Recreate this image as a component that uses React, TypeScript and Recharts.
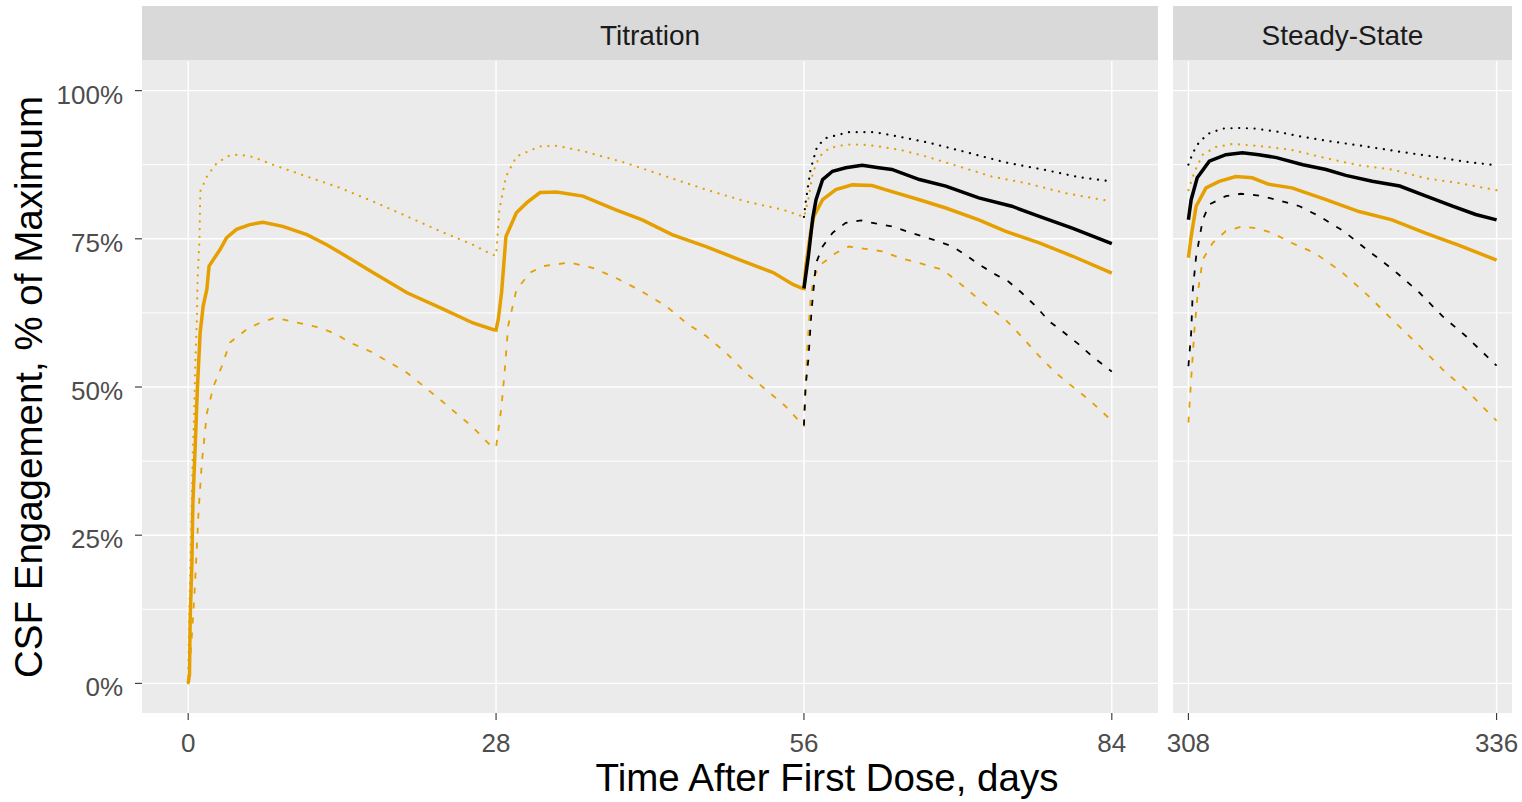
import React from 'react'
import { LineChart, Line, XAxis, YAxis, CartesianGrid } from 'recharts'

// [day, % engagement]
const titOrangeMed: [number, number][] = [
  [0, 0], [0.12, 1.5], [0.18, 10.8], [0.34, 20.4], [0.43, 30.5], [0.64, 40], [0.84, 49.9], [1.09, 59.2],
  [1.36, 63.6], [1.7, 66.5], [1.9, 70.4], [2.9, 73.2], [3.5, 75.2], [4.4, 76.6], [5.6, 77.4], [6.8, 77.8],
  [8.6, 77.1], [10.8, 75.7], [12.6, 74], [13.8, 72.7], [16.8, 69.3], [19.9, 65.9], [22.9, 63.4], [25.9, 60.8],
  [27.7, 59.7], [28, 59.6], [28.2, 61.4], [28.5, 65.9], [28.9, 75.4], [29.85, 79.4], [30.8, 81.1], [32, 82.8],
  [33.5, 82.9], [35.9, 82.2], [38.9, 79.9], [41.3, 78.2], [44, 75.7], [47.1, 73.7], [50.1, 71.5], [53.2, 69.3],
  [55, 67.3], [55.8, 66.7], [56, 66.6], [56.17, 70.4], [56.6, 76], [56.9, 78.8], [57.7, 81.6], [58.9, 83.3],
  [60.4, 84.1], [62.2, 84], [63.4, 83.3], [66.5, 81.6], [68.9, 80.2], [71.9, 78.2], [74.3, 76.3], [77.4, 74.3],
  [80.4, 72.1], [84, 69.2],
]
const titOrangeHi: [number, number][] = [
  [0, 0], [0.1, 12], [0.2, 20], [0.33, 31], [0.42, 38.9], [0.54, 45.7], [0.64, 53.5], [0.79, 61.4],
  [0.85, 68.1], [1.03, 74.9], [1.1, 83], [1.7, 85.5], [2.6, 87.8], [3.8, 89.1], [4.7, 89.2], [5.9, 88.8],
  [7.7, 87.5], [10.8, 85.5], [13.8, 83.6], [16.8, 81.3], [19.9, 78.8], [22.9, 76.3], [25.9, 74], [27.7, 72.3],
  [28, 72.2], [28.3, 79.9], [28.9, 85.5], [29.85, 88.9], [32, 90.6], [33.5, 90.7], [35.9, 89.8], [39.8, 87.8],
  [43.5, 85.5], [47.1, 83.3], [50.7, 81.3], [54.1, 79.9], [56, 78.7], [56.4, 81.6], [56.8, 86.1], [57.4, 88.9],
  [58.3, 90.3], [59.8, 90.9], [61.3, 90.9], [62.8, 90.6], [65, 89.9], [67.1, 88.9], [70.1, 87.2], [73.1, 85.5],
  [76.2, 84.4], [79.8, 82.7], [84, 81.3],
]
const titOrangeLo: [number, number][] = [
  [0, 0], [0.3, 7], [0.6, 16], [0.94, 28.8], [1.24, 37.2], [1.7, 45.6], [2.3, 50.1], [3.06, 53.5],
  [3.8, 57.5], [5.3, 59.7], [6.5, 60.8], [7.9, 61.7], [10.8, 60.5], [12, 60], [13.5, 58.9], [14.7, 57.5],
  [16.8, 55.8], [19.9, 52.4], [22.9, 47.9], [25.9, 43.2], [27.4, 40.3], [28, 39.8], [28.5, 46.8], [28.8, 53],
  [29.1, 60.3], [29.85, 66.4], [31.1, 69.3], [32.3, 70.4], [34.7, 71], [36.8, 70.1], [38.9, 68.4], [41, 66.4],
  [43.5, 63.6], [45.3, 60.8], [47.1, 58.6], [48.9, 55.8], [50.7, 52.4], [52.5, 49.6], [54.3, 46.8], [55.7, 44],
  [56, 43.5], [56.3, 56.3], [56.6, 64.8], [56.9, 68.7], [57.7, 70.9], [58.9, 72.6], [60.1, 73.7], [61.6, 73.3],
  [63.1, 72.9], [64.7, 71.8], [66.5, 70.9], [68.6, 69.8], [70.1, 67.6], [71.9, 64.8], [74.3, 61.4], [75.5, 59.1],
  [77.4, 55.2], [78.9, 52.4], [80.4, 50.1], [81.9, 47.9], [84, 44.3],
]
const titBlackMed: [number, number][] = [
  [56, 66.6], [56.4, 72], [56.8, 78.5], [57.1, 81.6], [57.7, 85], [58.6, 86.4], [59.8, 87], [61.3, 87.4],
  [62.8, 87], [64, 86.7], [66.5, 85], [68.9, 83.9], [71.9, 81.9], [74.9, 80.5], [77.4, 78.8], [80.4, 76.8],
  [84, 74.2],
]
const titBlackHi: [number, number][] = [
  [56, 78.7], [56.15, 81.1], [56.6, 86.7], [57.2, 90.6], [58, 92], [58.6, 92.3], [60.1, 93], [62.4, 93],
  [64.5, 92.3], [67.4, 91.2], [71, 89.5], [74.3, 87.9], [78, 86.6], [81, 85.4], [84, 84.7],
]
const titBlackLo: [number, number][] = [
  [56, 43.5], [56.15, 50.1], [56.4, 54.6], [56.7, 63.1], [57.1, 70.9], [57.7, 73.7], [58.6, 76], [59.8, 77.7],
  [61.2, 78.1], [62.5, 77.6], [64, 77.1], [65.3, 76.3], [66.8, 75.4], [68, 74.7], [69.5, 73.7], [70.7, 72.3],
  [71.9, 70.7], [73.4, 69], [74.6, 67.8], [75.8, 65.9], [77.1, 63.6], [78.3, 61.1], [79.5, 59.4], [81, 57.2],
  [82.2, 55.2], [84, 52.6],
]

const ssOrangeMed: [number, number][] = [
  [308, 71.8], [308.25, 75.4], [308.7, 80.5], [309.6, 83.6], [310.8, 84.7], [312.3, 85.5], [313.8, 85.3],
  [315.3, 84.2], [317.4, 83.6], [320.5, 81.6], [323.5, 79.6], [326.5, 78.2], [329.6, 75.9], [332.6, 73.9],
  [336, 71.4],
]
const ssOrangeHi: [number, number][] = [
  [308, 83.2], [308.55, 86.3], [309.3, 89.2], [310.5, 90.5], [312, 91], [313.5, 90.8], [315.3, 90.5],
  [317.4, 90], [320.5, 88.6], [323.5, 87.4], [326.5, 86.7], [329.6, 85.2], [332.6, 84.4], [336, 83.2],
]
const ssOrangeLo: [number, number][] = [
  [308, 44], [308.25, 51.3], [308.55, 59.7], [308.85, 65.9], [309.3, 71.5], [310.2, 74.3], [311.4, 76.3],
  [312.9, 77.1], [314.4, 76.7], [315.6, 76], [317.4, 74.3], [319.5, 72.6], [322, 69.3], [324.4, 65.3],
  [326.5, 61.4], [329, 56.9], [331.4, 52.4], [333.2, 49.6], [336, 44.3],
]
const ssBlackMed: [number, number][] = [
  [308, 78.2], [308.25, 81.6], [308.8, 85.3], [309.9, 88.1], [311.4, 89.2], [312.9, 89.5], [314.4, 89.2],
  [316, 88.7], [318.4, 87.5], [320.5, 86.7], [322.3, 85.7], [324.7, 84.7], [327.2, 83.9], [329.6, 82.2],
  [332, 80.5], [334.1, 79.1], [336, 78.2],
]
const ssBlackHi: [number, number][] = [
  [308, 87.5], [308.4, 89.5], [309, 91.4], [309.9, 92.8], [311.1, 93.6], [312.6, 93.7], [314.1, 93.6],
  [316, 93.1], [318.4, 92.2], [321.1, 91.4], [324.1, 90.6], [327.2, 89.7], [330.2, 88.9], [333.2, 88],
  [336, 87.4],
]
const ssBlackLo: [number, number][] = [
  [308, 53.5], [308.25, 59.1], [308.4, 66.4], [308.7, 72], [309.3, 78.2], [309.9, 80.8], [311.4, 82.2],
  [312.8, 82.6], [314.4, 82.3], [316, 81.6], [318.1, 80.5], [319.9, 78.8], [322.1, 76.3], [324.2, 73.2],
  [326.6, 69.8], [329, 65.9], [331.1, 61.9], [333.2, 58.6], [336, 53.6],
]

const yTicks = [0, 25, 50, 75, 100]
const yMinor = [12.5, 37.5, 62.5, 87.5]
const titXTicks = [0, 28, 56, 84]
const ssXTicks = [308, 336]
const panelNames = ['Titration', 'Steady-State']

const FONT = '"Liberation Sans", Arial, Helvetica, sans-serif'
const ORANGE = '#E69F00'
const BLACK = '#000000'

const pts = (arr: [number, number][]) => arr.map(([t, v]) => ({ t, v }))

const YTick = (props: any) => {
  const { x, y, payload } = props
  return (
    <text x={x} y={y + 13} textAnchor="end" fontSize={26} fill="#4D4D4D" fontFamily={FONT}>
      {payload.value}%
    </text>
  )
}

const XTick = (props: any) => {
  const { x, y, payload } = props
  return (
    <text x={x} y={y + 29.5} textAnchor="middle" fontSize={26} fill="#4D4D4D" fontFamily={FONT}>
      {payload.value}
    </text>
  )
}

// solid = median, dotted = upper, dashed = lower
const lineStyles = [
  { w: 3.5, dash: undefined as string | undefined, cap: 'butt' },
  { w: 2.2, dash: '0.1 7.6', cap: 'round' },
  { w: 1.8, dash: '6 9', cap: 'butt' },
]

const draw = (sets: [number, number][][], color: string, key: string) =>
  // dotted, dashed, then the median on top
  [1, 2, 0].map((i) => (
    <Line
      key={key + i}
      data={pts(sets[i])}
      dataKey="v"
      type="linear"
      stroke={color}
      strokeWidth={lineStyles[i].w}
      strokeDasharray={lineStyles[i].dash}
      strokeLinecap={lineStyles[i].cap as any}
      dot={false}
      activeDot={false}
      isAnimationActive={false}
    />
  ))

const grids = (xt: number[]) => [
  <CartesianGrid key="g1" fill="#EBEBEB" stroke="#FFFFFF" strokeWidth={1.4} horizontalValues={yTicks} verticalValues={xt} />,
  <CartesianGrid key="g2" fill="none" stroke="#FFFFFF" strokeWidth={1} horizontalValues={yMinor} vertical={false} />,
]

export default function App() {
  return (
    <div style={{ position: 'absolute', left: 0, top: 0, width: 1522, height: 802, background: '#FFFFFF', fontFamily: FONT }}>
      <div style={{ position: 'absolute', left: 0, top: 0 }}>
        <LineChart width={1159} height={802} margin={{ top: 61, right: 1, bottom: 0, left: 0 }}>
          {grids(titXTicks)}
          <XAxis
            dataKey="t"
            type="number"
            domain={[-4.2, 88.2]}
            ticks={titXTicks}
            allowDataOverflow
            height={89}
            axisLine={false}
            tickSize={7}
            tickLine={{ stroke: '#333333', strokeWidth: 1.1 }}
            tick={<XTick />}
            interval={0}
          />
          <YAxis
            type="number"
            domain={[-5, 105]}
            ticks={yTicks}
            allowDataOverflow
            width={142}
            axisLine={false}
            tickSize={7}
            tickMargin={12}
            tickLine={{ stroke: '#333333', strokeWidth: 1.1 }}
            tick={<YTick />}
            interval={0}
          />
          {draw([titOrangeMed, titOrangeHi, titOrangeLo], ORANGE, 'to')}
          {draw([titBlackMed, titBlackHi, titBlackLo], BLACK, 'tb')}
        </LineChart>
      </div>
      <div style={{ position: 'absolute', left: 1143, top: 0 }}>
        <LineChart width={379} height={802} margin={{ top: 61, right: 10, bottom: 0, left: 30 }}>
          {grids(ssXTicks)}
          <XAxis
            dataKey="t"
            type="number"
            domain={[306.6, 337.4]}
            ticks={ssXTicks}
            allowDataOverflow
            height={89}
            axisLine={false}
            tickSize={7}
            tickLine={{ stroke: '#333333', strokeWidth: 1.1 }}
            tick={<XTick />}
            interval={0}
          />
          <YAxis type="number" domain={[-5, 105]} ticks={yTicks} allowDataOverflow hide />
          {draw([ssOrangeMed, ssOrangeHi, ssOrangeLo], ORANGE, 'so')}
          {draw([ssBlackMed, ssBlackHi, ssBlackLo], BLACK, 'sb')}
        </LineChart>
      </div>
      <svg width={1522} height={802} style={{ position: 'absolute', left: 0, top: 0, pointerEvents: 'none' }}>
        <rect x={142} y={6} width={1016} height={54.5} fill="#D9D9D9" />
        <text x={650} y={45} textAnchor="middle" fontSize={28} fill="#1A1A1A" fontFamily={FONT}>
          {panelNames[0]}
        </text>
        <rect x={1173} y={6} width={339} height={54.5} fill="#D9D9D9" />
        <text x={1342.5} y={45} textAnchor="middle" fontSize={28} fill="#1A1A1A" fontFamily={FONT}>
          {panelNames[1]}
        </text>
        <text x={827} y={791} textAnchor="middle" fontSize={38.5} fill="#000000" fontFamily={FONT}>
          Time After First Dose, days
        </text>
        <text
          x={0}
          y={0}
          transform="translate(42, 387) rotate(-90)"
          textAnchor="middle"
          fontSize={38.5}
          fill="#000000"
          fontFamily={FONT}
        >
          CSF Engagement, % of Maximum
        </text>
      </svg>
    </div>
  )
}
